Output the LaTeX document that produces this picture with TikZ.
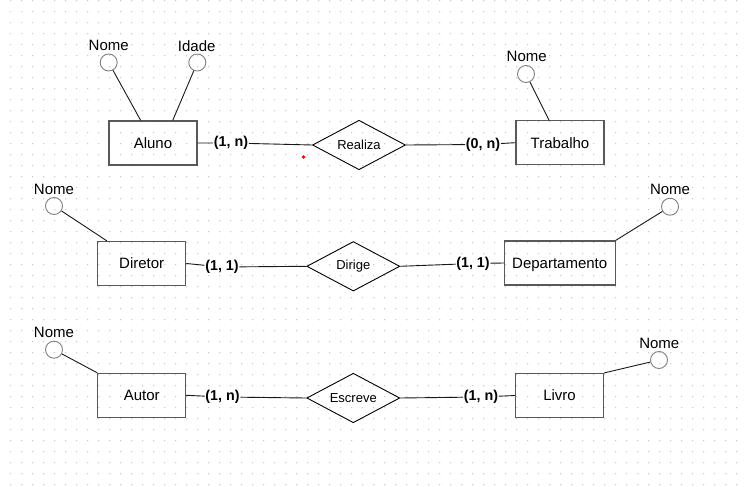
\documentclass[tikz,border=0pt]{standalone}
\usepackage{fontspec}
\setmainfont{Liberation Sans}
\usetikzlibrary{shapes.geometric}

\begin{document}
\begin{tikzpicture}[x=1pt, y=-1pt,
		entity/.style={draw=black!65, line width=1.1pt, minimum width=88pt, minimum height=44pt, inner sep=0pt, text height=10.7pt, text depth=0pt, font=\fontsize{15}{18}\selectfont},
		relation/.style={draw=black, line width=0.9pt, diamond, shape aspect=1.9, minimum width=93pt, minimum height=49.5pt, inner sep=0pt, font=\fontsize{13}{15}\selectfont},
		attr/.style={draw=black!50, line width=0.9pt, circle, minimum size=17pt, inner sep=0pt},
		attrtext/.style={inner sep=0pt, font=\fontsize{15}{18}\selectfont},
		card/.style={fill=white, inner sep=0.6pt, font=\fontsize{14.3}{17}\bfseries\selectfont},
		link/.style={draw=black!90, line width=0.9pt}]
				\useasboundingbox (0,0) rectangle (747,487);
				\fill[white] (0,0) rectangle (747,487);
				
				% Grid
				\foreach \i in {0,...,66}
					\foreach \j in {0,...,44}
						\fill[black!28] (10.7+11*\i, 0.7+11*\j) circle (0.6pt);
				
				% Aluno - Realiza - Trabalho
				\node[entity] (aluno) at (153,143) {Aluno};
				\node[attr] (alunoNome) at (108.7,62.5) {};
				\node[attrtext] (alunoNomeTxt) at (108.7,45.7) {Nome};
				\node[attr] (alunoIdade) at (197.3,62.5) {};
				\node[attrtext] (alunoIdadeTxt) at (196.7,45.7) {Idade};
				
				\node[relation] (realiza) at (359,145) {Realiza};
				
				\node[entity] (trabalho) at (560,142.7) {Trabalho};
				\node[attr] (trabalhoNome) at (526,74) {};
				\node[attrtext] (trabalhoNomeTxt) at (526.7,56.7) {Nome};
				
				\node[card] (c1) at (231,143) {(1, n)};
				\node[card] (c2) at (483,144.5) {(0, n)};
				
				\fill[red] (303.5,157) circle (1.8pt); % stray dot
				
				\draw[link] (alunoNome) -- ([xshift=-12.3pt]aluno.north);
				\draw[link] (alunoIdade) -- ([xshift=19.7pt]aluno.north);
				\draw[link] (trabalhoNome) -- ([xshift=-11pt]trabalho.north);
				\draw[link] (aluno.east) -- (c1) -- (realiza.west);
				\draw[link] (realiza.east) -- (c2) -- (trabalho.west);
				
				% Diretor - Dirige - Departamento
				\node[entity] (diretor) at (141.7,263.5) {Diretor};
				\node[attr] (diretorNome) at (54,206) {};
				\node[attrtext] (diretorNomeTxt) at (54,189.3) {Nome};
				
				\node[relation] (dirige) at (353.3,266.3) {Dirige};
				
				\node[entity, minimum width=110.7pt] (depto) at (559.7,263) {Departamento};
				\node[attr] (deptoNome) at (670,206.7) {};
				\node[attrtext] (deptoNomeTxt) at (670,189) {Nome};
				
				\node[card] (c3) at (222,267) {(1, 1)};
				\node[card] (c4) at (473,263.5) {(1, 1)};
				
				\draw[link] (diretorNome) -- ([xshift=-34.7pt]diretor.north);
				\draw[link] (deptoNome) -- (depto.north east);
				\draw[link] (diretor.east) -- (c3) -- (dirige.west);
				\draw[link] (dirige.east) -- (c4) -- (depto.west);
				
				% Autor - Escreve - Livro
				\node[entity] (autor) at (141.7,395.3) {Autor};
				\node[attr] (autorNome) at (54,349.7) {};
				\node[attrtext] (autorNomeTxt) at (54,332.3) {Nome};
				
				\node[relation] (escreve) at (353.3,398) {Escreve};
				
				\node[entity] (livro) at (559.5,395.5) {Livro};
				\node[attr] (livroNome) at (659,360) {};
				\node[attrtext] (livroNomeTxt) at (659.3,343.3) {Nome};
				
				\node[card] (c5) at (222.5,397) {(1, n)};
				\node[card] (c6) at (481,397) {(1, n)};
				
				\draw[link] (autorNome) -- (autor.north west);
				\draw[link] (livroNome) -- (livro.north east);
				\draw[link] (autor.east) -- (c5) -- (escreve.west);
				\draw[link] (escreve.east) -- (c6) -- (livro.west);
			\end{tikzpicture}
\end{document}
